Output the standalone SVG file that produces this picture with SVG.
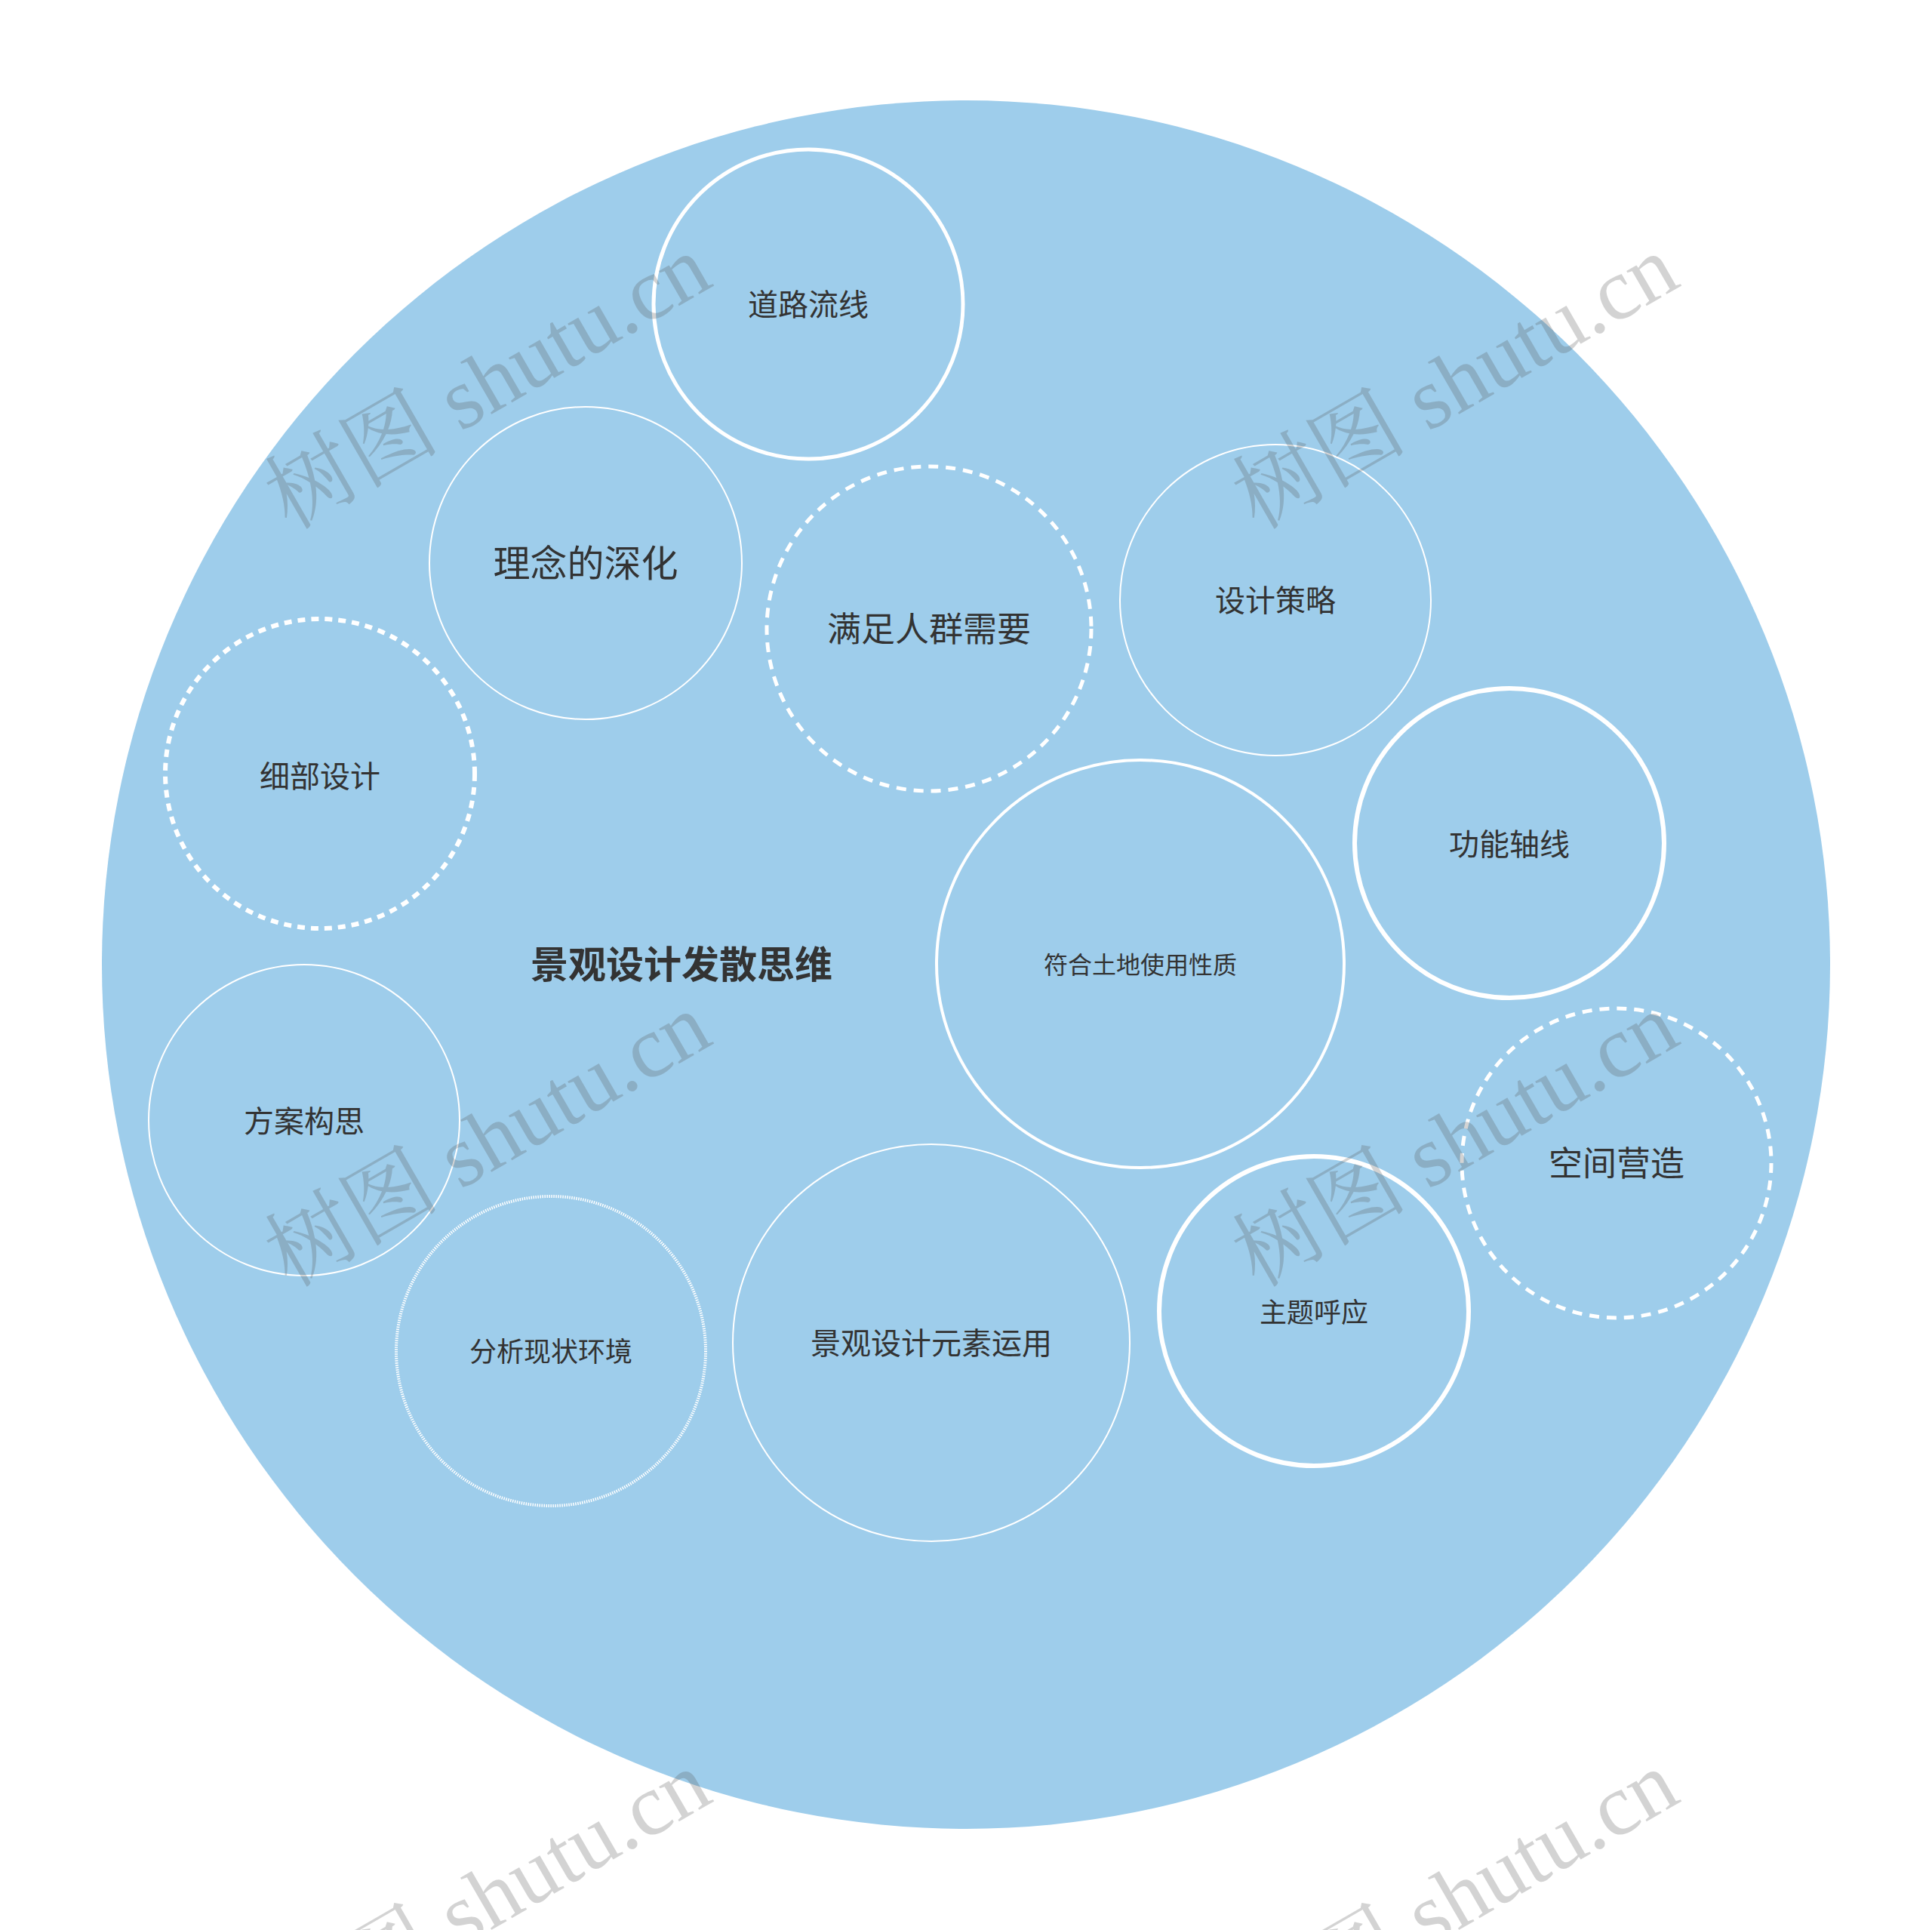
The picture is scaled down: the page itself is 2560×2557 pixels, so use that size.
<svg xmlns="http://www.w3.org/2000/svg" width="2560" height="2557" viewBox="0 0 2560 2557">
<style>
.bg{fill:#9ecdeb}
.n{fill:none;stroke:#fff}
.thin{stroke-width:2}
.med{stroke-width:4}
.thick{stroke-width:6}
.dash{stroke-width:5;stroke-dasharray:13 10}
.dash2{stroke-width:6;stroke-dasharray:10 8}
.dot{stroke-width:4;stroke-dasharray:1.5 1.5}
.t{font-family:"Noto Sans CJK SC","Noto Sans",sans-serif;fill:#333;text-anchor:middle}
.wm{font-family:"Liberation Serif","Noto Serif CJK SC","Noto Sans CJK SC",serif;font-size:116px;fill:#555;opacity:0.25}
</style>
<rect width="2560" height="2557" fill="#fff"/>
<g id="root">
<circle class="bg" cx="1280" cy="1278" r="1145"/>
<text class="t" x="903" y="1296" font-size="50" font-weight="bold">景观设计发散思维</text>
</g>
<g id="connectors"></g>
<g id="n1"><circle class="n" stroke-width="5" cx="1071" cy="403" r="205"/><text class="t" x="1071" y="418" font-size="40">道路流线</text></g>
<g id="n2"><circle class="n thin" cx="776" cy="746" r="207"/><text class="t" x="776" y="764" font-size="49">理念的深化</text></g>
<g id="n3"><circle class="n dash" cx="1231" cy="833" r="215"/><text class="t" x="1231" y="850" font-size="45">满足人群需要</text></g>
<g id="n4"><circle class="n thin" cx="1690" cy="795" r="206"/><text class="t" x="1690" y="810" font-size="40">设计策略</text></g>
<g id="n5"><circle class="n dash2" cx="424" cy="1025" r="205"/><text class="t" x="424" y="1043" font-size="40">细部设计</text></g>
<g id="n6"><circle class="n thick" cx="2000" cy="1117" r="205"/><text class="t" x="2000" y="1133" font-size="40">功能轴线</text></g>
<g id="n7"><circle class="n med" cx="1511" cy="1277" r="270"/><text class="t" x="1511" y="1290" font-size="32">符合土地使用性质</text></g>
<g id="n8"><circle class="n thin" cx="403" cy="1484" r="206"/><text class="t" x="403" y="1500" font-size="40">方案构思</text></g>
<g id="n9"><circle class="n dash" cx="2142" cy="1541" r="205"/><text class="t" x="2142" y="1558" font-size="45">空间营造</text></g>
<g id="n10"><circle class="n thick" cx="1741" cy="1737" r="205"/><text class="t" x="1741" y="1752" font-size="36">主题呼应</text></g>
<g id="n11"><circle class="n dot" cx="730" cy="1790" r="205"/><text class="t" x="730" y="1804" font-size="36">分析现状环境</text></g>
<g id="n12"><circle class="n thin" cx="1234" cy="1779" r="263"/><text class="t" x="1234" y="1794" font-size="40">景观设计元素运用</text></g>
<g id="watermarks">
<text class="wm" x="384" y="703" transform="rotate(-30 384 703)">树图 shutu.cn</text>
<text class="wm" x="1666" y="703" transform="rotate(-30 1666 703)">树图 shutu.cn</text>
<text class="wm" x="384" y="1707" transform="rotate(-30 384 1707)">树图 shutu.cn</text>
<text class="wm" x="1666" y="1707" transform="rotate(-30 1666 1707)">树图 shutu.cn</text>
<text class="wm" x="384" y="2711" transform="rotate(-30 384 2711)">树图 shutu.cn</text>
<text class="wm" x="1666" y="2711" transform="rotate(-30 1666 2711)">树图 shutu.cn</text>
</g>
</svg>
